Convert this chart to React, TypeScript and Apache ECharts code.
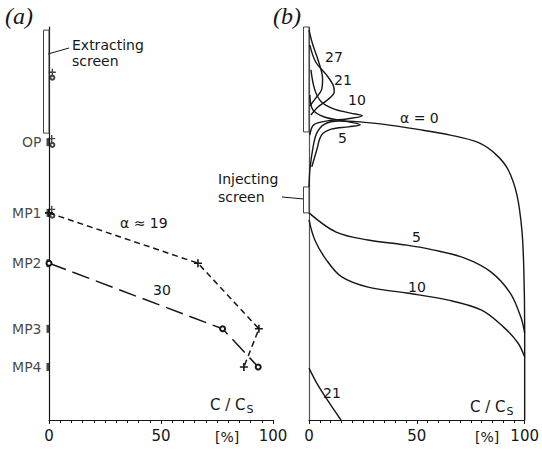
import React, { useEffect, useRef } from "react";
import * as echarts from "echarts";

// ---------- Panel (a): measured profiles (x = C/Cs in %, depth = relative depth 0..100) ----------
const mpLabels = ["OP", "MP1", "MP2", "MP3", "MP4"];
const mpDepth = [29.3, 47.3, 60.1, 76.8, 86.5];

const alpha19X = [0, 66.5, 93.7, 87];
const alpha19Depth = [47.3, 60.1, 76.8, 86.5];
const alpha30X = [0, 77.5, 93.4];
const alpha30Depth = [60.1, 76.8, 86.5];

const extraPlusX = [1.5, 1.2, 1.2];
const extraPlusDepth = [11.5, 28.4, 46.4];
const extraCircleX = [1.5, 1.5, 1.5];
const extraCircleDepth = [12.9, 30.0, 48.0];

// screens: [top depth, bottom depth]
const extractingA = [0.8, 27.0];
const extractingB = [0.0, 26.7];
const injectingB = [40.7, 47.3];

// ---------- Panel (b): computed profiles ----------
const b0X = [100, 100, 99.6, 98.7, 96.4, 92.4, 87.0, 78.9, 65.5, 49.8, 34.1, 24.7, 13.9, 7.2, 3.6, 1.8, 0.4, 0];
const b0D = [100, 77.1, 61.8, 51.7, 42.7, 36.4, 32.6, 29.5, 27.5, 26.0, 24.7, 24.2, 23.9, 24.7, 27.0, 30.8, 36.4, 40.7];

const b5UpX = [0.4, 1.8, 7.2, 16.1, 23.8, 18.4, 10.3, 5.8, 3.6, 1.3];
const b5UpD = [17.3, 21.1, 22.9, 23.9, 24.9, 25.4, 26.0, 27.5, 31.3, 35.6];

const b10UpX = [0.9, 2.7, 5.8, 11.7, 19.3, 24.7, 17.5, 8.5, 2.2, 0.4];
const b10UpD = [10.9, 16.0, 19.1, 20.9, 21.9, 22.6, 23.4, 23.9, 24.9, 27.5];

const b21UpX = [0.4, 3.1, 8.1, 11.2, 11.7, 8.5, 4.0, 0.9];
const b21UpD = [4.6, 8.9, 12.2, 14.8, 16.5, 18.6, 20.4, 22.4];

const b27X = [0, 1.8, 4.5, 6.3, 5.8, 3.1, 0.4];
const b27D = [0.8, 4.6, 8.9, 13.2, 16.0, 18.1, 20.1];

const b5LowX = [0, 12.6, 27.4, 45.3, 57.4, 72.2, 84.3, 93.3, 98.2, 100];
const b5LowD = [47.3, 52.2, 54.2, 55.5, 56.7, 58.8, 62.3, 67.7, 73.8, 77.9];

const b10LowX = [0, 2.7, 8.1, 15.2, 27.4, 45.3, 64.6, 79.8, 90.1, 96.9, 100];
const b10LowD = [49.1, 54.2, 59.3, 63.6, 66.2, 67.7, 69.5, 72.0, 76.3, 80.4, 84.0];

const b21LowX = [0, 3.6, 8.5, 14.8];
const b21LowD = [86.8, 90.6, 94.9, 100];

const xTickValues = [0, 50, 100];

const zip = (xs: number[], ys: number[]) => xs.map((x, i) => [x, ys[i]]);

const FONT = "DejaVu Sans";
const INK = "#161616";

const PLUS = "path://M0,4H10V6H0Z M4,0H6V10H4Z";

export default function App() {
  const ref = useRef<HTMLDivElement>(null);
  useEffect(() => {
    document.body.style.margin = "0";
    if (!ref.current) return;
    const chart = echarts.init(ref.current, undefined, { renderer: "svg" });

    const xAxis = (gridIndex: number) => ({
      type: "value",
      gridIndex,
      min: xTickValues[0],
      max: xTickValues[xTickValues.length - 1],
      interval: xTickValues[1] - xTickValues[0],
      axisLine: { show: true, onZero: false, lineStyle: { color: INK, width: 1.2 } },
      axisTick: { show: true, length: 4, lineStyle: { color: INK } },
      minorTick: { show: true, splitNumber: 10, length: 3, lineStyle: { color: INK } },
      splitLine: { show: false },
      minorSplitLine: { show: false },
      axisLabel: { fontSize: 15, fontFamily: FONT, color: INK, margin: 8 },
    });
    const yAxis = (gridIndex: number, color: string) => ({
      type: "value",
      gridIndex,
      inverse: true,
      min: 0,
      max: 100,
      axisLine: { show: true, onZero: false, lineStyle: { color, width: 1.2 } },
      axisTick: { show: false },
      axisLabel: { show: false },
      splitLine: { show: false },
    });

    const screenSeries = (idx: number, data: number[][]) => ({
      type: "custom",
      xAxisIndex: idx,
      yAxisIndex: idx,
      silent: true,
      data,
      encode: { x: 2, y: [0, 1] },
      renderItem: (_p: any, api: any) => {
        const t = api.coord([0, api.value(0)]);
        const b = api.coord([0, api.value(1)]);
        const w = 5.5;
        return {
          type: "rect",
          shape: { x: t[0] - w, y: t[1], width: w, height: b[1] - t[1] },
          style: { fill: "none", stroke: "#444", lineWidth: 1 },
        };
      },
    });

    const curve = (data: number[][]) => ({
      type: "line",
      xAxisIndex: 1,
      yAxisIndex: 1,
      data,
      smooth: 0.35,
      symbol: "none",
      clip: false,
      lineStyle: { color: INK, width: 1.4 },
    });

    const txt = (text: string, x: number, y: number, extra: any = {}) => ({
      type: "text",
      x,
      y,
      style: {
        text,
        fontFamily: FONT,
        fontSize: 14,
        fill: INK,
        verticalAlign: "middle",
        ...extra,
      },
    });

    const cs = (x: number, y: number) => ({
      type: "text",
      x,
      y,
      style: {
        text: "{a|C / C}{b|S}",
        verticalAlign: "middle",
        rich: {
          a: { fontFamily: FONT, fontSize: 15, fill: INK },
          b: { fontFamily: FONT, fontSize: 11, fill: INK, padding: [8, 0, 0, 1] },
        },
      },
    });

    chart.setOption({
      animation: false,
      backgroundColor: "#fff",
      grid: [
        { left: 49, right: 542 - 273, top: 27, bottom: 31 },
        { left: 309, right: 10, top: 27, bottom: 31 },
      ],
      xAxis: [xAxis(0), xAxis(1)],
      yAxis: [yAxis(0, INK), yAxis(1, "#555")],
      series: [
        screenSeries(0, [[extractingA[0], extractingA[1], 0]]),
        screenSeries(1, [
          [extractingB[0], extractingB[1], 0],
          [injectingB[0], injectingB[1], 0],
        ]),
        {
          type: "line",
          data: zip(alpha19X, alpha19Depth),
          symbol: PLUS,
          symbolSize: 8,
          clip: false,
          itemStyle: { color: INK },
          lineStyle: { color: INK, width: 1.5, type: [6, 4] },
        },
        {
          type: "line",
          data: zip(alpha30X, alpha30Depth),
          symbol: "emptyCircle",
          symbolSize: 5,
          clip: false,
          itemStyle: { color: INK, borderWidth: 1 },
          lineStyle: { color: INK, width: 1.5, type: [18, 7] },
        },
        {
          type: "scatter",
          data: zip(extraPlusX, extraPlusDepth),
          symbol: PLUS,
          symbolSize: 7,
          clip: false,
          itemStyle: { color: INK },
        },
        {
          type: "scatter",
          data: zip(extraCircleX, extraCircleDepth),
          symbol: "emptyCircle",
          symbolSize: 4,
          clip: false,
          itemStyle: { color: INK, borderWidth: 1 },
        },
        {
          type: "scatter",
          data: mpLabels.map((n, i) => ({ name: n, value: [0, mpDepth[i]] })),
          symbol: "rect",
          symbolSize: [3, 8],
          symbolOffset: [-1, 0],
          clip: false,
          itemStyle: { color: INK },
          label: {
            show: true,
            position: "left",
            distance: 5,
            formatter: "{b}",
            fontFamily: FONT,
            fontSize: 14,
            color: INK,
          },
        },
        curve(zip(b0X, b0D)),
        curve(zip(b5UpX, b5UpD)),
        curve(zip(b10UpX, b10UpD)),
        curve(zip(b21UpX, b21UpD)),
        curve(zip(b27X, b27D)),
        curve(zip(b5LowX, b5LowD)),
        curve(zip(b10LowX, b10LowD)),
        curve(zip(b21LowX, b21LowD)),
      ],
      graphic: [
        txt("(a)", 5, 16, { fontFamily: "Liberation Serif", fontStyle: "italic", fontSize: 24 }),
        txt("(b)", 273, 16, { fontFamily: "Liberation Serif", fontStyle: "italic", fontSize: 24 }),
        txt("Extracting", 72, 45),
        txt("screen", 72, 61),
        { type: "line", shape: { x1: 48, y1: 54, x2: 69, y2: 48 }, style: { stroke: INK, lineWidth: 1 } },
        txt("Injecting", 218, 179),
        txt("screen", 218, 197),
        { type: "line", shape: { x1: 282, y1: 197, x2: 304, y2: 199 }, style: { stroke: INK, lineWidth: 1 } },
        txt("α ≈ 19", 120, 223),
        txt("30", 153, 290),
        cs(210, 405),
        txt("[%]", 215, 437),
        txt("27", 325, 57),
        txt("21", 334, 80),
        txt("10", 348, 100),
        txt("α = 0", 400, 118),
        txt("5", 338, 138),
        txt("5", 412, 237),
        txt("10", 408, 287),
        txt("21", 323, 393),
        cs(470, 407),
        txt("[%]", 475, 437),
      ],
    });
    return () => chart.dispose();
  }, []);
  return <div ref={ref} style={{ width: 542, height: 451 }} />;
}
